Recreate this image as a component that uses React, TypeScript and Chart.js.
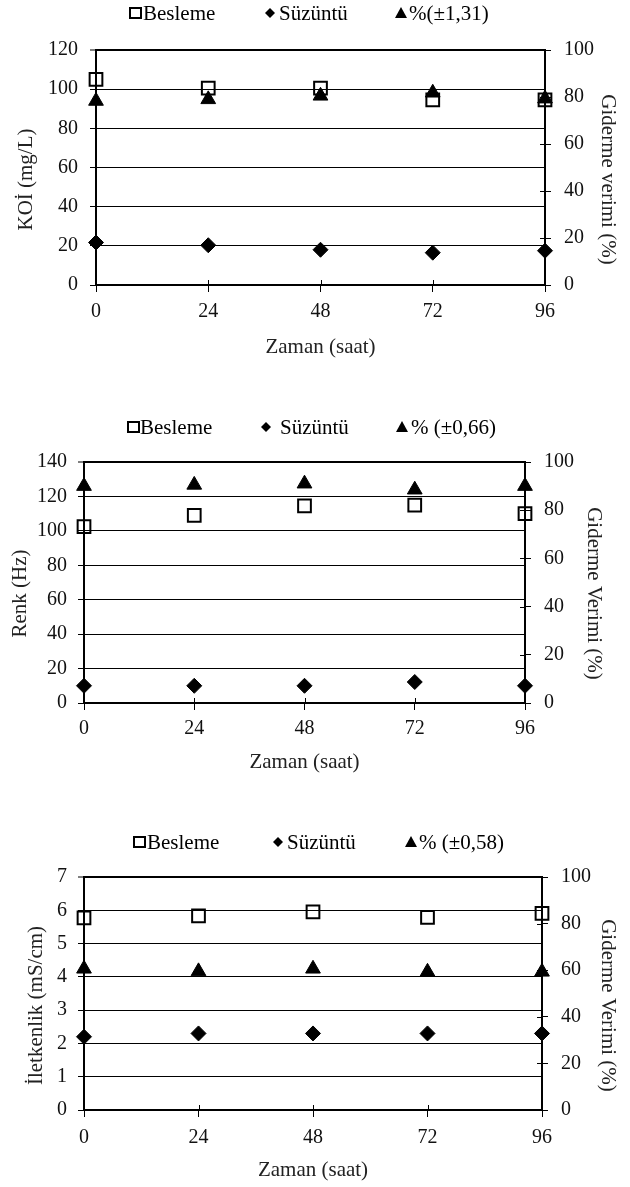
import React, { useEffect, useRef } from "react";
import { Chart, registerables } from "chart.js";

Chart.register(...registerables);

// ---------- data ----------
const hours = [0, 24, 48, 72, 96];

const koiBesleme = [105, 100.5, 100.5, 94.5, 94.5];
const koiSuzuntu = [21.7, 20.3, 18, 16.5, 17.5];
const koiVerim = [78.3, 79, 80.5, 81.8, 79.3];

const renkBesleme = [102.5, 109, 114.5, 115, 110];
const renkSuzuntu = [10, 10, 10, 12.2, 10];
const renkVerim = [90, 90.5, 91, 88.5, 90];

const iletBesleme = [5.77, 5.83, 5.95, 5.79, 5.91];
const iletSuzuntu = [2.2, 2.3, 2.3, 2.3, 2.3];
const iletVerim = [60.6, 59.5, 60.6, 59.3, 59.3];

const seriesNames = ["Besleme", "Süzüntü"];
const verimNames = ["%(±1,31)", "% (±0,66)", "% (±0,58)"];
const leftTitles = ["KOİ (mg/L)", "Renk (Hz)", "İletkenlik (mS/cm)"];
const rightTitles = ["Giderme verimi (%)", "Giderme Verimi (%)", "Giderme Verimi (%)"];
const xTitle = "Zaman (saat)";
const leftMax = [120, 140, 7];
const leftStep = [20, 20, 1];
const rightMax = 100;
const rightStep = 20;

// ---------- layout (not data) ----------
const FONT = '"Liberation Serif", "Times New Roman", serif';
const panels = [
  { top: 0, h: 385, padTop: 50, leftW: 96, rightW: 85, xH: 100, ltx: 26, rtx: 608, tOff: 12, xty: 347, ly: 13,
    leg: [[135, 143], [270, 279], [401, 409]], yPad: 12, xPad: 8 },
  { top: 390, h: 400, padTop: 72, leftW: 84, rightW: 105, xH: 87, ltx: 20, rtx: 594, tOff: 11, xty: 372, ly: 37,
    leg: [[133, 140], [266, 280], [402, 411]], yPad: 11, xPad: 7 },
  { top: 800, h: 387, padTop: 77, leftW: 84, rightW: 88, xH: 77, ltx: 36, rtx: 608, tOff: 12, xty: 370, ly: 42,
    leg: [[139, 147], [278, 287], [411, 419]], yPad: 11, xPad: 9 },
];

const dataSets = [
  [koiBesleme, koiSuzuntu, koiVerim],
  [renkBesleme, renkSuzuntu, renkVerim],
  [iletBesleme, iletSuzuntu, iletVerim],
];

function Panel({ idx }: { idx: number }) {
  const ref = useRef<HTMLCanvasElement | null>(null);
  useEffect(() => {
    const p = panels[idx];
    const [bes, suz, ver] = dataSets[idx];
    const lMax = leftMax[idx];

    const decor = {
      id: "decor" + idx,
      afterDraw(chart: any) {
        const { ctx, chartArea, scales } = chart;
        ctx.save();
        ctx.strokeStyle = "#000";
        ctx.lineWidth = 1;
        // inward tick marks on x axis and right axis
        scales.x.ticks.forEach((t: any) => {
          const px = Math.round(scales.x.getPixelForValue(t.value)) + 0.5;
          ctx.beginPath();
          ctx.moveTo(px, chartArea.bottom);
          ctx.lineTo(px, chartArea.bottom - 5);
          ctx.stroke();
        });
        scales.y1.ticks.forEach((t: any) => {
          const py = Math.round(scales.y1.getPixelForValue(t.value)) + 0.5;
          ctx.beginPath();
          ctx.moveTo(chartArea.right - 5, py);
          ctx.lineTo(chartArea.right, py);
          ctx.stroke();
        });

        // axis titles
        ctx.fillStyle = "#222";
        ctx.font = `21px ${FONT}`;
        ctx.textAlign = "center";
        ctx.textBaseline = "middle";
        const cy = (chartArea.top + chartArea.bottom) / 2 + p.tOff;
        ctx.save();
        ctx.translate(p.ltx, cy);
        ctx.rotate(-Math.PI / 2);
        ctx.fillText(leftTitles[idx], 0, 0);
        ctx.restore();
        ctx.save();
        ctx.translate(p.rtx, cy);
        ctx.rotate(Math.PI / 2);
        ctx.fillText(rightTitles[idx], 0, 0);
        ctx.restore();
        ctx.fillText(xTitle, (chartArea.left + chartArea.right) / 2, p.xty);

        // legend
        ctx.fillStyle = "#000";
        ctx.font = `21px ${FONT}`;
        ctx.textAlign = "left";
        const y = p.ly;
        const [sq, di, tr] = p.leg;
        ctx.lineWidth = 2;
        ctx.strokeRect(sq[0] - 5, y - 5, 11, 10);
        ctx.beginPath();
        ctx.moveTo(di[0], y - 5);
        ctx.lineTo(di[0] + 5, y);
        ctx.lineTo(di[0], y + 5);
        ctx.lineTo(di[0] - 5, y);
        ctx.closePath();
        ctx.fill();
        ctx.beginPath();
        ctx.moveTo(tr[0], y - 6);
        ctx.lineTo(tr[0] + 6, y + 5);
        ctx.lineTo(tr[0] - 6, y + 5);
        ctx.closePath();
        ctx.fill();
        ctx.fillText(seriesNames[0], sq[1], y + 1);
        ctx.fillText(seriesNames[1], di[1], y + 1);
        ctx.fillText(verimNames[idx], tr[1], y + 1);
        ctx.restore();
      },
    };

    const tickFont = { family: FONT, size: 20 };
    const chart = new Chart(ref.current as HTMLCanvasElement, {
      type: "scatter",
      data: {
        datasets: [
          {
            label: seriesNames[0],
            data: hours.map((x, i) => ({ x, y: bes[i] })),
            yAxisID: "y",
            clip: false,
            pointStyle: "rect",
            pointRadius: 9,
            pointBackgroundColor: "rgba(0,0,0,0)",
            pointBorderColor: "#000",
            pointBorderWidth: 2,
          },
          {
            label: seriesNames[1],
            data: hours.map((x, i) => ({ x, y: suz[i] })),
            yAxisID: "y",
            clip: false,
            pointStyle: "rectRot",
            pointRadius: 7.5,
            pointBackgroundColor: "#000",
            pointBorderColor: "#000",
            pointBorderWidth: 1,
          },
          {
            label: verimNames[idx],
            data: hours.map((x, i) => ({ x, y: ver[i] })),
            yAxisID: "y1",
            clip: false,
            pointStyle: "triangle",
            pointRadius: 8.5,
            pointBackgroundColor: "#000",
            pointBorderColor: "#000",
            pointBorderWidth: 1,
          },
        ],
      } as any,
      options: {
        responsive: false,
        animation: false,
        events: [],
        layout: { padding: { top: p.padTop, left: 0, right: 0, bottom: 0 } },
        plugins: { legend: { display: false }, tooltip: { enabled: false } },
        scales: {
          x: {
            type: "linear",
            min: 0,
            max: 96,
            afterBuildTicks: (s: any) => {
              s.ticks = hours.map((v) => ({ value: v }));
            },
            ticks: { font: tickFont, color: "#111", padding: p.xPad, maxRotation: 0 },
            grid: { drawOnChartArea: false, tickLength: 7, color: "#000", tickWidth: 1 },
            border: { color: "#000", width: 2 },
            afterFit: (s: any) => {
              s.height = p.xH;
            },
          },
          y: {
            position: "left",
            min: 0,
            max: lMax,
            ticks: { stepSize: leftStep[idx], font: tickFont, color: "#111", padding: p.yPad },
            grid: {
              color: "#000",
              lineWidth: (c: any) => (c.tick && c.tick.value === lMax ? 2 : 1),
              tickLength: 6,
              tickWidth: 1,
            },
            border: { color: "#000", width: 2 },
            afterFit: (s: any) => {
              s.width = p.leftW;
            },
          },
          y1: {
            position: "right",
            min: 0,
            max: rightMax,
            ticks: { stepSize: rightStep, font: tickFont, color: "#111", padding: 13 },
            grid: { drawOnChartArea: false, color: "#000", tickLength: 6, tickWidth: 1 },
            border: { color: "#000", width: 2 },
            afterFit: (s: any) => {
              s.width = p.rightW;
            },
          },
        },
      } as any,
      plugins: [decor],
    });
    return () => chart.destroy();
  }, [idx]);

  const p = panels[idx];
  return (
    <canvas
      ref={ref}
      width={630}
      height={p.h}
      style={{ position: "absolute", left: 0, top: p.top }}
    />
  );
}

export default function App() {
  return (
    <div style={{ position: "absolute", left: 0, top: 0, width: 630, height: 1187, background: "#fff" }}>
      <Panel idx={0} />
      <Panel idx={1} />
      <Panel idx={2} />
    </div>
  );
}
